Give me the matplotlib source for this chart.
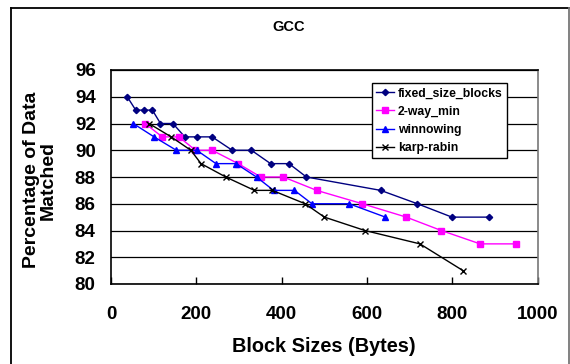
import matplotlib
matplotlib.use("Agg")
import matplotlib.pyplot as plt
from matplotlib.lines import Line2D

plt.rcParams['font.family'] = ['Liberation Sans', 'DejaVu Sans']
plt.rcParams['font.weight'] = 'bold'

# ---- data ----
fixed_x = [38, 58, 77, 97, 116, 145, 173, 201, 237, 284, 329, 374, 417, 458, 632, 718, 799, 887]
fixed_y = [94, 93, 93, 93, 92, 92, 91, 91, 91, 90, 90, 89, 89, 88, 87, 86, 85, 85]

twoway_x = [80, 120, 159, 198, 237, 298, 351, 404, 482, 589, 692, 774, 865, 948]
twoway_y = [92, 91, 91, 90, 90, 89, 88, 88, 87, 86, 85, 84, 83, 83]

winn_x = [52, 101, 153, 201, 246, 293, 341, 381, 430, 471, 558, 643]
winn_y = [92, 91, 90, 90, 89, 89, 88, 87, 87, 86, 86, 85]

karp_x = [89, 141, 187, 211, 269, 336, 378, 455, 500, 595, 724, 825]
karp_y = [92, 91, 90, 89, 88, 87, 87, 86, 85, 84, 83, 81]

series_names = ['fixed_size_blocks', '2-way_min', 'winnowing', 'karp-rabin']
x_ticks = [0, 200, 400, 600, 800, 1000]
y_ticks = [80, 82, 84, 86, 88, 90, 92, 94, 96]

W, H = 570, 364
fig = plt.figure(figsize=(W / 100, H / 100), dpi=100)
fig.patch.set_facecolor('white')

# outer chart border
fig.add_artist(Line2D([11 / W, 11 / W], [0, 1 - 8 / H], color='black', lw=1.3))
fig.add_artist(Line2D([11 / W, 569 / W], [1 - 8 / H, 1 - 8 / H], color='black', lw=1.3))
fig.add_artist(Line2D([568.5 / W, 568.5 / W], [0, 1 - 8 / H], color='#777777', lw=1.3))

ax = fig.add_axes([111 / W, 1 - 284 / H, (537.7 - 111) / W, (284 - 70) / H])

ax.plot(fixed_x, fixed_y, color='#000080', marker='D', markersize=3.2, lw=1.0,
        label=series_names[0])
ax.plot(twoway_x, twoway_y, color='#FF00FF', marker='s', markersize=4.5, lw=1.0,
        label=series_names[1])
ax.plot(winn_x, winn_y, color='#0000FF', marker='^', markersize=4.5, lw=1.0,
        label=series_names[2])
ax.plot(karp_x, karp_y, color='black', marker='x', markersize=4, mew=1.0, lw=1.0,
        label=series_names[3])

ax.set_xlim(0, 1000)
ax.set_ylim(80, 96)
ax.set_xticks(x_ticks)
ax.set_yticks(y_ticks)
ax.set_xticklabels([str(v) for v in x_ticks], fontsize=13.5, fontweight='bold')
ax.set_yticklabels([str(v) for v in y_ticks], fontsize=13.5, fontweight='bold')
ax.tick_params(axis='x', direction='in', length=5, width=1, pad=16)
ax.tick_params(axis='y', length=0, pad=11)

ax.yaxis.grid(True, color='black', lw=0.9)
ax.set_axisbelow(True)
for s in ['left', 'bottom', 'top']:
    ax.spines[s].set_color('black')
    ax.spines[s].set_linewidth(1.2)
ax.spines['right'].set_color('#777777')
ax.spines['right'].set_linewidth(1.2)

fig.text(289 / W, 1 - 27 / H, 'GCC', ha='center', va='center', fontsize=10.5, fontweight='bold')
fig.text(324 / W, 1 - 347 / H, 'Block Sizes (Bytes)', ha='center', va='center',
         fontsize=14.3, fontweight='bold')
fig.text(40 / W, 1 - 180 / H, 'Percentage of Data\nMatched', ha='center', va='center',
         rotation=90, fontsize=14, fontweight='bold', linespacing=1.0)

leg = ax.legend(loc='upper left', bbox_to_anchor=((371.7 - 111) / (537.7 - 111), (284 - 83.3) / (284 - 70)),
                frameon=True, fancybox=False, shadow=False, edgecolor='black',
                handlelength=1.5, handletextpad=0.3, borderpad=0.35,
                labelspacing=0.5, borderaxespad=0, prop={'weight': 'bold', 'size': 8.8})
leg.get_frame().set_linewidth(1.0)
leg.get_frame().set_alpha(1)

fig.savefig('out.png', dpi=100)
